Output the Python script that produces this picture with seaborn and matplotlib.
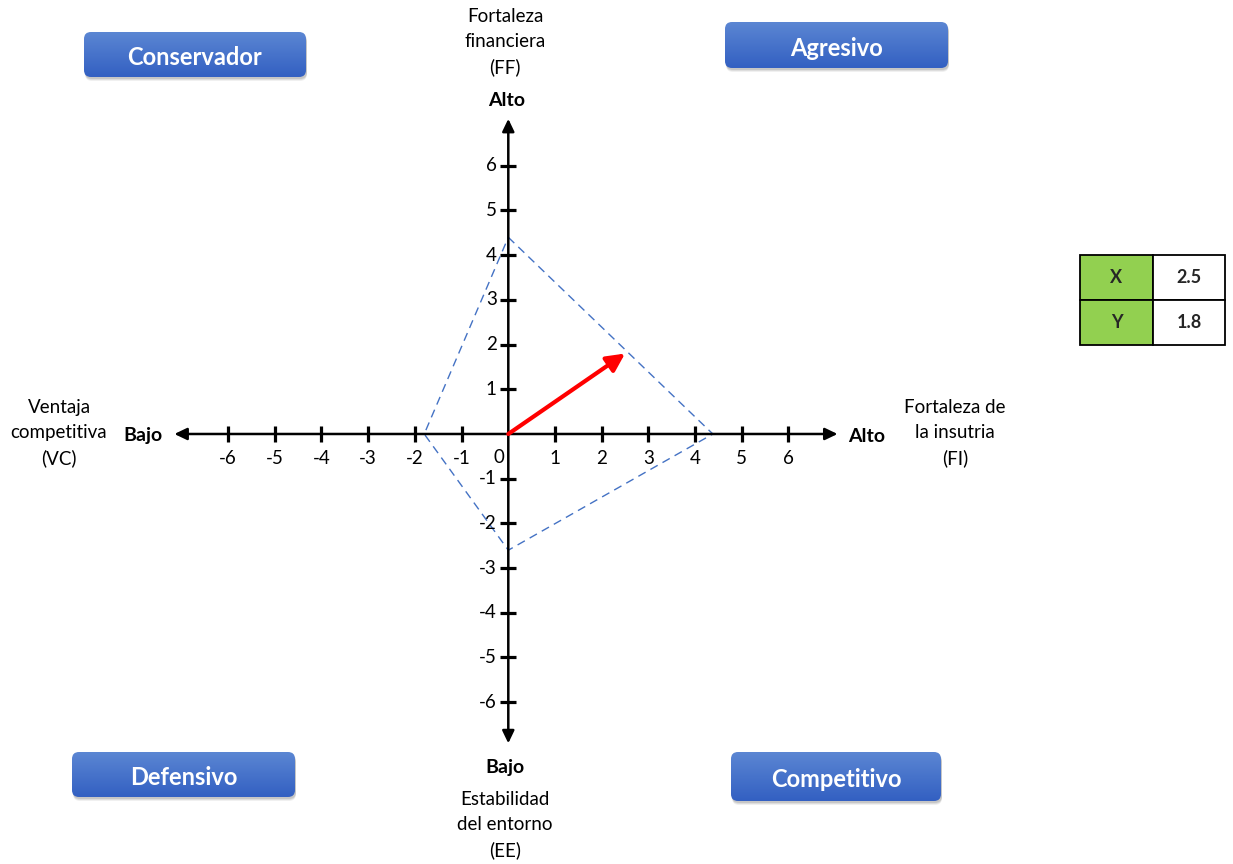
import numpy as np
import matplotlib
matplotlib.use("Agg")
import matplotlib.pyplot as plt
from matplotlib.patches import FancyBboxPatch, Rectangle
import seaborn as sns
import pandas as pd

sns.set_theme(style="white")
plt.rcParams["font.family"] = ["Lato", "DejaVu Sans"]

# Factor scores (PEYEA matrix)
ff_score = 4.4    # Fortaleza financiera
fi_score = 4.38   # Fortaleza de la industria
ee_score = -2.6   # Estabilidad del entorno
vc_score = -1.8   # Ventaja competitiva

# Resulting direction vector
vector_x = 2.5
vector_y = 1.8

axis_ticks = [-6, -5, -4, -3, -2, -1, 1, 2, 3, 4, 5, 6]

quadrant_names = ["Conservador", "Agresivo", "Defensivo", "Competitivo"]
table_labels = ["X", "Y"]
table_values = [vector_x, vector_y]

W, H = 1233, 864
fig = plt.figure(figsize=(W / 100, H / 100), dpi=100)
fig.patch.set_facecolor("white")

# ---- data axes (fills the figure; origin placed in the middle-left) ----
ax = fig.add_axes([0, 0, 1, 1])
ax.set_facecolor("none")
ax.set_xlim(-10.884, 15.518)
ax.set_ylim(-9.620, 9.709)

for side in ["top", "right"]:
    ax.spines[side].set_visible(False)
ax.spines["left"].set_position(("data", 0))
ax.spines["bottom"].set_position(("data", 0))
ax.spines["left"].set_color("none")
ax.spines["bottom"].set_color("none")
ax.set_xticks(axis_ticks)
ax.set_yticks(axis_ticks)
ax.set_xticklabels([])
ax.set_yticklabels([])
ax.tick_params(axis="both", direction="inout", length=11, width=2.3,
               color="black", bottom=True, left=True)
ax.grid(False)

# axis lines with arrow heads
arrow_kw = dict(arrowstyle="<|-|>,head_length=0.75,head_width=0.36",
                color="black", lw=1.8, mutation_scale=10, shrinkA=0, shrinkB=0)
ax.annotate("", xy=(7.05, 0), xytext=(-7.15, 0), arrowprops=arrow_kw)
ax.annotate("", xy=(0, 7.05), xytext=(0, -6.92), arrowprops=arrow_kw)

# tick labels
tick_font = dict(fontsize=13.5, color="black")
for t in axis_ticks:
    ax.text(t, -0.35, f"{t}", ha="center", va="top", **tick_font)
    ax.text(-0.25, t, f"{t}", ha="right", va="center", **tick_font)
ax.text(-0.2, -0.33, "0", ha="center", va="top", **tick_font)

# factor polygon
poly = pd.DataFrame({
    "x": [0, fi_score, 0, vc_score, 0],
    "y": [ff_score, 0, ee_score, 0, ff_score],
})
sns.lineplot(data=poly, x="x", y="y", sort=False, estimator=None, ax=ax,
             color="#4472c4", lw=1.0, linestyle=(0, (6, 4)), legend=False)
ax.set_xlabel("")
ax.set_ylabel("")

# direction vector
ax.annotate("", xy=(vector_x, vector_y), xytext=(0, 0),
            arrowprops=dict(arrowstyle="-|>,head_length=0.9,head_width=0.45",
                            color="#ff0000", lw=3.0, mutation_scale=12,
                            shrinkA=0, shrinkB=0))

# ---- overlay in pixel coordinates for labels, buttons and table ----
ov = fig.add_axes([0, 0, 1, 1])
ov.set_xlim(0, W)
ov.set_ylim(H, 0)
ov.axis("off")
ov.set_facecolor("none")

label_font = dict(fontsize=13.5, color="black", ha="center", va="center",
                  linespacing=1.55)
bold_font = dict(fontsize=14, color="black", ha="center", va="center",
                 fontweight="bold")

ov.text(505, 42, "Fortaleza\nfinanciera\n(FF)", **label_font)
ov.text(507, 100, "Alto", **bold_font)
ov.text(505, 825, "Estabilidad\ndel entorno\n(EE)", **label_font)
ov.text(505, 767, "Bajo", **bold_font)
ov.text(59, 433, "Ventaja\ncompetitiva\n(VC)", **label_font)
ov.text(143, 436, "Bajo", **bold_font)
ov.text(955, 433, "Fortaleza de\nla insutria\n(FI)", **label_font)
ov.text(867, 436, "Alto", **bold_font)

# quadrant buttons
boxes = {
    "Conservador": (84, 32, 306, 77),
    "Agresivo": (725, 22, 948, 68),
    "Defensivo": (72, 752, 295, 797),
    "Competitivo": (731, 752, 941, 801),
}
grad = np.linspace(0, 1, 64)[:, None]
top_c = np.array([0x5b, 0x86, 0xd3]) / 255
bot_c = np.array([0x33, 0x60, 0xc2]) / 255
grad_img = (top_c[None, None, :] * (1 - grad[..., None])
            + bot_c[None, None, :] * grad[..., None])
grad_img = np.repeat(grad_img, 2, axis=1)

for name in quadrant_names:
    x0, y0, x1, y1 = boxes[name]
    w, h = x1 - x0, y1 - y0
    # soft shadow
    for k, a in [(4, 0.06), (3, 0.08), (2, 0.10)]:
        sh = FancyBboxPatch((x0 + 1, y0 + k), w, h,
                            boxstyle="round,pad=0,rounding_size=7",
                            fc="black", ec="none", alpha=a, zorder=2)
        ov.add_patch(sh)
    patch = FancyBboxPatch((x0, y0), w, h,
                           boxstyle="round,pad=0,rounding_size=7",
                           fc="none", ec="none", zorder=3)
    ov.add_patch(patch)
    im = ov.imshow(grad_img, extent=(x0, x1, y1, y0), aspect="auto",
                   zorder=3, interpolation="bilinear")
    im.set_clip_path(patch)
    ov.text((x0 + x1) / 2, (y0 + y1) / 2 + 3, name, color="white",
            fontsize=17, fontweight="bold", ha="center", va="center", zorder=4)

# X / Y result table
cx0, cx1, cx2 = 1080, 1153, 1225
ry = [255, 300, 345]
for i, (lab, val) in enumerate(zip(table_labels, table_values)):
    ov.add_patch(Rectangle((cx0, ry[i]), cx1 - cx0, ry[i + 1] - ry[i],
                           fc="#92d050", ec="black", lw=1.3, zorder=3))
    ov.add_patch(Rectangle((cx1, ry[i]), cx2 - cx1, ry[i + 1] - ry[i],
                           fc="white", ec="black", lw=1.3, zorder=3))
    ymid = (ry[i] + ry[i + 1]) / 2
    ov.text((cx0 + cx1) / 2, ymid, lab, fontsize=13, fontweight="bold",
            ha="center", va="center", zorder=4)
    ov.text((cx1 + cx2) / 2, ymid, f"{val:.1f}", fontsize=13,
            fontweight="bold", ha="center", va="center", zorder=4)

fig.savefig("out.png", dpi=100, facecolor="white")
